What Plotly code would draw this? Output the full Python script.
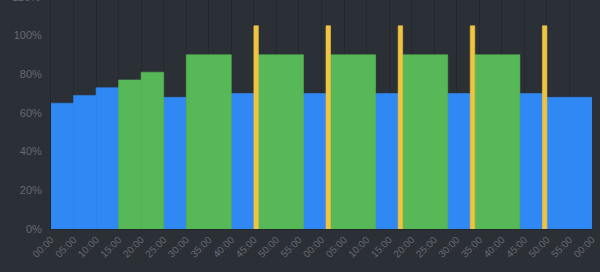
import plotly.graph_objects as go

# Data (minutes from start, duration in minutes, percent value, state)
starts = [0, 5, 10, 15, 20, 25, 30, 40, 45, 46, 56, 61, 62, 72, 77, 78, 88, 93, 94, 104, 109, 110]
durations = [5, 5, 5, 5, 5, 5, 10, 5, 1, 10, 5, 1, 10, 5, 1, 10, 5, 1, 10, 5, 1, 10]
values = [65, 69, 73, 77, 81, 68, 90, 70, 105, 90, 70, 105, 90, 70, 105, 90, 70, 105, 90, 70, 105, 68]
states = ["blue", "blue", "blue", "green", "green", "blue", "green", "blue", "yellow",
          "green", "blue", "yellow", "green", "blue", "yellow", "green", "blue", "yellow",
          "green", "blue", "yellow", "blue"]

tick_vals = list(range(0, 121, 5))
tick_text = ["00:00", "05:00", "10:00", "15:00", "20:00", "25:00", "30:00", "35:00",
             "40:00", "45:00", "50:00", "55:00", "00:00", "05:00", "10:00", "15:00",
             "20:00", "25:00", "30:00", "35:00", "40:00", "45:00", "50:00", "55:00", "00:00"]
y_ticks = [0, 20, 40, 60, 80, 100, 120]

colors = {"blue": "#3088F4", "green": "#56B856", "yellow": "#F0C443"}
BG = "#2B2F36"
TXT = "#666A72"
YMAX = 118.3

fig = go.Figure()
for st in ["blue", "green", "yellow"]:
    idx = [i for i, s in enumerate(states) if s == st]
    fig.add_trace(go.Bar(
        x=[starts[i] + durations[i] / 2 for i in idx],
        y=[values[i] for i in idx],
        width=[durations[i] for i in idx],
        marker=dict(color=colors[st], line=dict(width=0.6, color=colors[st])),
        showlegend=False,
        hoverinfo="skip",
    ))

fig.update_layout(
    width=600, height=272,
    margin=dict(l=51, r=8, t=0, b=43),
    paper_bgcolor=BG, plot_bgcolor=BG,
    barmode="overlay",
    font=dict(family="Liberation Sans, Arial, sans-serif", size=11, color=TXT),
    xaxis=dict(
        range=[0, 120], tickvals=tick_vals, ticktext=tick_text, tickangle=-45,
        showgrid=True, gridcolor="#25282E", gridwidth=1, zeroline=False,
        showline=True, linecolor="#23262B", tickfont=dict(size=10, color=TXT),
        ticks="", fixedrange=True,
    ),
    yaxis=dict(
        range=[0, YMAX], tickvals=y_ticks, ticktext=[f"{v}%" for v in y_ticks],
        showgrid=False, zeroline=False, showline=True, linecolor="#23262B",
        ticks="", ticklabelstandoff=6, tickfont=dict(size=11, color=TXT),
    ),
)

fig.add_annotation(
    x=0, xref="paper", y=120 / YMAX, yref="paper", text="120%",
    showarrow=False, xanchor="right", yanchor="middle", xshift=-9,
    font=dict(size=11, color=TXT),
)

fig.write_html("out.html")
